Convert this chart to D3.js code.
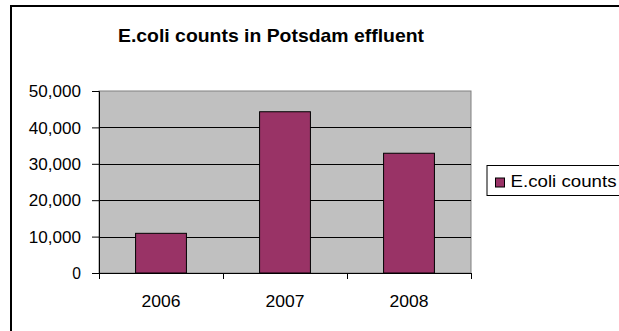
<!DOCTYPE html>
<html>
<head>
<meta charset="utf-8">
<script src="https://cdn.jsdelivr.net/npm/d3@7"></script>
<style>
  html, body { margin: 0; padding: 0; background: #fff; }
  svg { display: block; font-family: "Liberation Sans", Arial, sans-serif; }
</style>
</head>
<body>
<svg id="chart" width="619" height="331"></svg>
<script>
// E.coli counts per year
const years = ["2006", "2007", "2008"];
const counts = [10900, 44300, 32900];
const yTicks = [0, 10000, 20000, 30000, 40000, 50000];
const seriesName = "E.coli counts";
const titleText = "E.coli counts in Potsdam effluent";

const svg = d3.select("#chart");
const fmt = d3.format(",");

// outer chart frame (right and bottom edges fall outside the view)
svg.append("rect")
  .attr("x", 11).attr("y", 6)
  .attr("width", 620).attr("height", 340)
  .attr("fill", "#fff").attr("stroke", "#000").attr("stroke-width", 2);

const plot = { left: 99, right: 471, top: 91, bottom: 273 };

const x = d3.scaleBand().domain(years)
  .range([plot.left, plot.right]).paddingInner(0.59).paddingOuter(0.295);
const xOuter = d3.scaleBand().domain(years).range([plot.left, plot.right]);
const y = d3.scaleLinear().domain([0, 50000]).range([plot.bottom, plot.top]);

// plot area background
svg.append("rect")
  .attr("x", plot.left).attr("y", plot.top)
  .attr("width", plot.right - plot.left).attr("height", plot.bottom - plot.top)
  .attr("fill", "#c0c0c0").attr("stroke", "#808080").attr("stroke-width", 1);

// horizontal gridlines
svg.append("g").selectAll("line")
  .data(yTicks.filter(d => d > 0 && d < 50000))
  .join("line")
  .attr("x1", plot.left).attr("x2", plot.right)
  .attr("y1", d => Math.round(y(d)) + 0.5).attr("y2", d => Math.round(y(d)) + 0.5)
  .attr("stroke", "#000").attr("stroke-width", 1);

// bars
svg.append("g").selectAll("rect")
  .data(years.map((yr, i) => ({ yr, v: counts[i] })))
  .join("rect")
  .attr("x", d => x(d.yr))
  .attr("y", d => y(d.v))
  .attr("width", x.bandwidth())
  .attr("height", d => y(0) - y(d.v))
  .attr("fill", "#993366")
  .attr("stroke", "#000").attr("stroke-width", 1);

// y axis
const yAxis = d3.axisLeft(y).tickValues(yTicks).tickSize(7).tickPadding(11)
  .tickFormat(fmt);
const gy = svg.append("g").attr("transform", `translate(${plot.left},0)`).call(yAxis);
gy.select(".domain").attr("stroke", "#000");
gy.selectAll(".tick line").attr("stroke", "#000");
gy.selectAll("text")
  .attr("font-size", 16).attr("fill", "#000")
  .attr("font-family", "Liberation Sans, Arial, sans-serif")
  .attr("dy", "0.36em")
  .attr("textLength", d => fmt(d).length * 8.7)
  .attr("lengthAdjust", "spacingAndGlyphs");

// x axis: ticks sit on category boundaries
const gx = svg.append("g").attr("transform", `translate(0,${plot.bottom})`);
gx.append("line").attr("x1", plot.left).attr("x2", plot.right)
  .attr("y1", 0.5).attr("y2", 0.5).attr("stroke", "#000");
const bounds = years.map(d => xOuter(d)).concat([plot.right]);
gx.selectAll("line.tk").data(bounds).join("line").attr("class", "tk")
  .attr("x1", d => Math.round(d) + 0.5).attr("x2", d => Math.round(d) + 0.5)
  .attr("y1", 0).attr("y2", 6).attr("stroke", "#000");
gx.selectAll("text").data(years).join("text")
  .attr("x", d => xOuter(d) + xOuter.bandwidth() / 2)
  .attr("y", 34)
  .attr("text-anchor", "middle")
  .attr("font-size", 16.5).attr("fill", "#000")
  .attr("textLength", 39).attr("lengthAdjust", "spacingAndGlyphs")
  .text(d => d);

// title
svg.append("text")
  .attr("x", 271).attr("y", 41.5)
  .attr("text-anchor", "middle")
  .attr("font-size", 19).attr("font-weight", "bold").attr("fill", "#000")
  .attr("textLength", 306).attr("lengthAdjust", "spacingAndGlyphs")
  .text(titleText);

// legend
const lg = svg.append("g");
lg.append("rect").attr("x", 487).attr("y", 165.5).attr("width", 140).attr("height", 30)
  .attr("fill", "#fff").attr("stroke", "#000").attr("stroke-width", 1);
lg.append("rect").attr("x", 495.5).attr("y", 178).attr("width", 9).attr("height", 9)
  .attr("fill", "#993366").attr("stroke", "#000").attr("stroke-width", 1);
lg.append("text").attr("x", 510.5).attr("y", 187)
  .attr("font-size", 17).attr("fill", "#000")
  .attr("textLength", 106).attr("lengthAdjust", "spacingAndGlyphs")
  .text(seriesName);
</script>
</body>
</html>
